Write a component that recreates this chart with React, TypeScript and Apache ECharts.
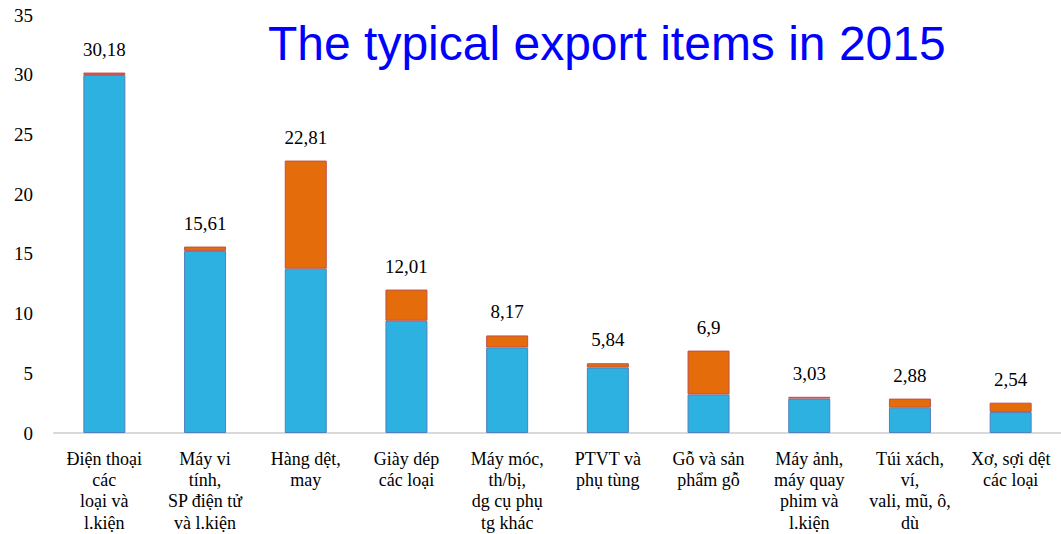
import React, { useEffect, useRef } from "react";
import * as echarts from "echarts";

const categories = [
  "Điện thoại\ncác\nloại và\nl.kiện",
  "Máy vi\ntính,\nSP điện tử\nvà l.kiện",
  "Hàng dệt,\nmay",
  "Giày dép\ncác loại",
  "Máy móc,\nth/bị,\ndg cụ phụ\ntg khác",
  "PTVT và\nphụ tùng",
  "Gỗ và sản\nphẩm gỗ",
  "Máy ảnh,\nmáy quay\nphim và\nl.kiện",
  "Túi xách,\nví,\nvali, mũ, ô,\ndù",
  "Xơ, sợi dệt\ncác loại",
];
const blueValues = [29.98, 15.25, 13.76, 9.4, 7.16, 5.48, 3.23, 2.88, 2.12, 1.75];
const orangeValues = [0.2, 0.36, 9.05, 2.61, 1.01, 0.36, 3.67, 0.15, 0.76, 0.79];
const totals = [30.18, 15.61, 22.81, 12.01, 8.17, 5.84, 6.9, 3.03, 2.88, 2.54];
const yTicks = { min: 0, max: 35, interval: 5 };
const title = "The typical export items in 2015";

export default function App() {
  const ref = useRef<HTMLDivElement>(null);
  useEffect(() => {
    if (!ref.current) return;
    const chart = echarts.init(ref.current, null, { renderer: "svg" });
    const serif = "'Liberation Serif', 'DejaVu Serif', serif";
    chart.setOption({
      animation: false,
      backgroundColor: "#ffffff",
      title: {
        text: title,
        left: 263,
        top: 14,
        textStyle: {
          fontFamily: "'Liberation Sans', Arial, sans-serif",
          fontSize: 48,
          fontWeight: "normal",
          color: "#0000ff",
        },
      },
      grid: { left: 54, right: 0, top: 15, bottom: 101, containLabel: false },
      xAxis: {
        type: "category",
        data: categories,
        axisLine: { show: true, lineStyle: { color: "#d9d9d9", width: 2 } },
        axisTick: { show: false },
        axisLabel: {
          interval: 0,
          margin: 15,
          fontFamily: serif,
          fontSize: 18,
          lineHeight: 21.3,
          color: "#000000",
          align: "center",
        },
      },
      yAxis: {
        type: "value",
        min: yTicks.min,
        max: yTicks.max,
        interval: yTicks.interval,
        axisLine: { show: false },
        axisTick: { show: false },
        splitLine: { show: false },
        axisLabel: {
          margin: 21,
          fontFamily: serif,
          fontSize: 19,
          color: "#000000",
        },
      },
      series: [
        {
          type: "bar",
          stack: "total",
          data: blueValues,
          barWidth: 42,
          itemStyle: { color: "#2cb1e1", borderColor: "#4f81bd", borderWidth: 1 },
        },
        {
          type: "bar",
          stack: "total",
          data: orangeValues,
          barWidth: 42,
          itemStyle: { color: "#e46c0a", borderColor: "#c0504d", borderWidth: 1 },
          label: {
            show: true,
            position: "top",
            distance: 14,
            fontFamily: serif,
            fontSize: 19,
            color: "#000000",
            formatter: (p: any) => String(totals[p.dataIndex]).replace(".", ","),
          },
        },
      ],
    });
    return () => chart.dispose();
  }, []);
  return (
    <div
      ref={ref}
      style={{ position: "fixed", left: 0, top: 0, width: 1061, height: 534 }}
    />
  );
}
